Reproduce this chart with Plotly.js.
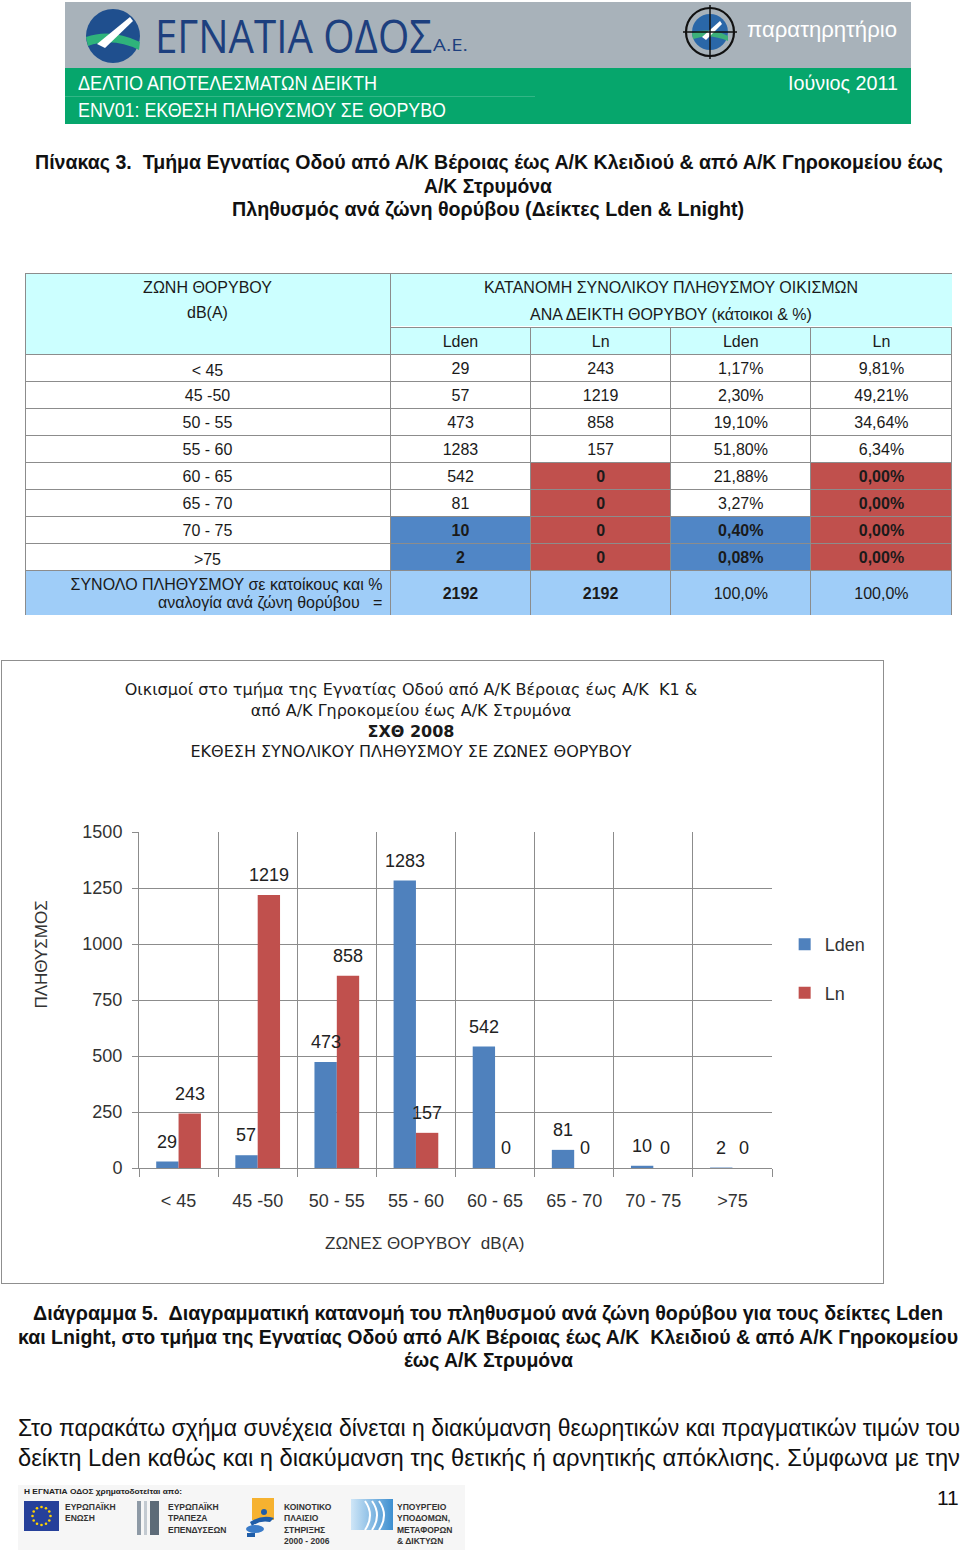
<!DOCTYPE html>
<html><head><meta charset="utf-8">
<script src="https://cdn.plot.ly/plotly-3.0.1.min.js"></script>
<style>
body{margin:0;background:#fff;}
#page{position:relative;width:960px;height:1550px;overflow:hidden;font-family:'Liberation Sans',Arial,sans-serif;color:#111;}
.abs{position:absolute;}
.ln{position:absolute;white-space:pre;display:inline-block;transform-origin:left center;}
</style></head><body><div id="page">
<!-- header banner -->
<div class="abs" style="left:65px;top:2px;width:846px;height:66px;background:#a8b2ba"></div>
<div class="abs" style="left:65px;top:68px;width:846px;height:56px;background:#06a66c"></div>
<div class="abs" style="left:65px;top:96px;width:470px;height:1px;background:rgba(255,255,255,0.18)"></div>
<svg class="abs" style="left:83px;top:6px" width="60" height="60" viewBox="0 0 60 60">
  <circle cx="30" cy="30" r="27" fill="#1f4f8e"/>
  <path d="M3 31 Q 28 22 57 36 L 56 44 Q 30 31 5 40 Z" fill="#2fb37b"/>
  <path d="M14 38 L 47 11 L 50 15 L 22 42 Z" fill="#ffffff"/>
</svg>
<svg class="abs" style="left:680px;top:3px" width="60" height="60" viewBox="0 0 60 60">
  <circle cx="30" cy="29" r="18" fill="#2a67a8"/>
  <path d="M12 30 Q 30 24 48 33 L 48 38 Q 30 30 13 36 Z" fill="#3cb07a"/>
  <path d="M22 34 L 40 18 L 42 21 L 26 37 Z" fill="#ffffff"/>
  <circle cx="30" cy="29" r="24" fill="none" stroke="#111" stroke-width="2.2"/>
  <line x1="30" y1="2" x2="30" y2="56" stroke="#111" stroke-width="1.5"/>
  <line x1="3" y1="29" x2="57" y2="29" stroke="#111" stroke-width="1.5"/>
</svg>
<!-- table -->
<div id="tbl" class="abs" style="left:25px;top:273px;width:927px;height:346px"></div>
<!-- chart -->
<div class="abs" style="left:1px;top:660px;width:881px;height:622px;border:1px solid #8f8f8f"></div>
<div id="chart" class="abs" style="left:2px;top:661px;width:881px;height:622px"></div>
<!-- footer logos -->
<div class="abs" style="left:18px;top:1485px;width:447px;height:65px;background:#f6f6f6"></div>
<svg class="abs" style="left:24px;top:1501px" width="36" height="32" viewBox="0 0 36 32">
  <rect x="0" y="0" width="35" height="30" fill="#26409a"/>
  <g fill="#ffd200" id="stars"></g>
</svg>
<svg class="abs" style="left:135px;top:1499px" width="30" height="38" viewBox="0 0 30 38">
  <rect x="2" y="2" width="4" height="34" fill="#8e9aa6"/>
  <rect x="9" y="2" width="3" height="34" fill="#c3cad1"/>
  <rect x="15" y="2" width="9" height="34" fill="#5d6b78"/>
</svg>
<svg class="abs" style="left:244px;top:1496px" width="34" height="42" viewBox="0 0 34 42">
  <rect x="8" y="2" width="22" height="22" fill="#f6b230"/>
  <circle cx="20" cy="16" r="3" fill="#1f5da8"/>
  <path d="M6 26 Q 18 18 30 22 L 26 26 Q 16 24 8 30 Z" fill="#1f5da8"/>
  <ellipse cx="11" cy="33" rx="9" ry="4" fill="#3a7bc8"/>
  <rect x="3" y="37" width="8" height="4" fill="#1f5da8"/>
</svg>
<svg class="abs" style="left:351px;top:1499px" width="44" height="34" viewBox="0 0 44 34">
  <defs><linearGradient id="mg" x1="0" x2="1"><stop offset="0" stop-color="#cfe6f7"/><stop offset="1" stop-color="#3d8fd0"/></linearGradient></defs>
  <rect x="0" y="0" width="42" height="31" fill="url(#mg)"/>
  <path d="M14 31 Q 24 16 14 2" stroke="#fff" stroke-width="2" fill="none"/>
  <path d="M21 31 Q 31 16 21 2" stroke="#fff" stroke-width="2" fill="none"/>
  <path d="M28 31 Q 38 16 28 2" stroke="#fff" stroke-width="2" fill="none"/>
</svg>
</div>
<script>
// ---------------- data ----------------
const zones = ['< 45', '45 -50', '50 - 55', '55 - 60', '60 - 65', '65 - 70', '70 - 75', '>75'];
const ldenPop = [29, 57, 473, 1283, 542, 81, 10, 2];
const lnPop = [243, 1219, 858, 157, 0, 0, 0, 0];
const ldenPct = ['1,17%', '2,30%', '19,10%', '51,80%', '21,88%', '3,27%', '0,40%', '0,08%'];
const lnPct = ['9,81%', '49,21%', '34,64%', '6,34%', '0,00%', '0,00%', '0,00%', '0,00%'];
const totalPop = [2192, 2192];
const totalPct = ['100,0%', '100,0%'];
const seriesNames = ['Lden', 'Ln'];
const yTicks = [0, 250, 500, 750, 1000, 1250, 1500];
const LDEN_LIMIT = 70, LN_LIMIT = 60;

// ---------------- page text ----------------
const page = document.getElementById('page');
function line(text, o) {
  const s = document.createElement('span');
  s.className = 'ln';
  s.textContent = text;
  s.style.fontSize = o.size + 'px';
  s.style.lineHeight = (o.size * 1.2) + 'px';
  s.style.left = o.x + 'px';
  s.style.top = (o.cy - o.size * 0.62) + 'px';
  s.style.fontWeight = o.bold ? 'bold' : 'normal';
  s.style.color = o.color || '#111';
  if (o.family) s.style.fontFamily = o.family;
  page.appendChild(s);
  if (o.w) {
    const r = s.getBoundingClientRect().width;
    s.style.transform = 'scaleX(' + (o.w / r) + ')';
  }
  return s;
}
// header
line('ΕΓΝΑΤΙΑ ΟΔΟΣ', {x:155, cy:37, size:46, w:277, color:'#1d3f7e', family:"'Open Sans','Liberation Sans',sans-serif"});
line('Α.Ε.', {x:433, cy:46, size:17, w:35, color:'#1d3f7e', family:"'Open Sans','Liberation Sans',sans-serif"});
line('παρατηρητήριο', {x:747, cy:31, size:22, w:150, color:'#ffffff'});
line('ΔΕΛΤΙΟ ΑΠΟΤΕΛΕΣΜΑΤΩΝ ΔΕΙΚΤΗ', {x:78, cy:83, size:21, w:299, color:'#ffffff'});
line('ENV01: ΕΚΘΕΣΗ ΠΛΗΘΥΣΜΟΥ ΣΕ ΘΟΡΥΒΟ', {x:78, cy:110, size:21, w:368, color:'#ffffff'});
line('Ιούνιος 2011', {x:788, cy:83, size:21, w:110, color:'#ffffff'});
// table title
line('Πίνακας 3.  Τμήμα Εγνατίας Οδού από Α/Κ Βέροιας έως Α/Κ Κλειδιού & από Α/Κ Γηροκομείου έως', {x:35, cy:162, size:20, bold:true, w:908});
line('Α/Κ Στρυμόνα', {x:424, cy:186, size:20, bold:true, w:128});
line('Πληθυσμός ανά ζώνη θορύβου (Δείκτες Lden & Lnight)', {x:232, cy:209, size:20, bold:true, w:512});
// caption
line('Διάγραμμα 5.  Διαγραμματική κατανομή του πληθυσμού ανά ζώνη θορύβου για τους δείκτες Lden', {x:33, cy:1313, size:20, bold:true, w:910});
line('και Lnight, στο τμήμα της Εγνατίας Οδού από Α/Κ Βέροιας έως Α/Κ  Κλειδιού & από Α/Κ Γηροκομείου', {x:18, cy:1337, size:20, bold:true, w:940});
line('έως Α/Κ Στρυμόνα', {x:404, cy:1360, size:20, bold:true, w:169});
// body text
line('Στο παρακάτω σχήμα συνέχεια δίνεται η διακύμανση θεωρητικών και πραγματικών τιμών του', {x:18, cy:1429, size:23, w:942});
line('δείκτη Lden καθώς και η διακύμανση της θετικής ή αρνητικής απόκλισης. Σύμφωνα με την', {x:18, cy:1459, size:23, w:942});
// footer
line('Η ΕΓΝΑΤΙΑ ΟΔΟΣ χρηματοδοτείται από:', {x:24, cy:1492, size:8, bold:true, w:158, color:'#222'});
[['ΕΥΡΩΠΑΪΚΗ','ΕΝΩΣΗ'], ['ΕΥΡΩΠΑΪΚΗ','ΤΡΑΠΕΖΑ','ΕΠΕΝΔΥΣΕΩΝ'], ['ΚΟΙΝΟΤΙΚΟ','ΠΛΑΙΣΙΟ','ΣΤΗΡΙΞΗΣ','2000 - 2006'], ['ΥΠΟΥΡΓΕΙΟ','ΥΠΟΔΟΜΩΝ,','ΜΕΤΑΦΟΡΩΝ','& ΔΙΚΤΥΩΝ']]
  .forEach((arr, k) => {
    const xs = [65, 168, 284, 397];
    arr.forEach((t, j) => line(t, {x: xs[k], cy: 1507 + j * 11.5, size: 8.5, bold: true, color: '#333'}));
  });
line('11', {x:937, cy:1498, size:21});
(function(){
  const g = document.getElementById('stars');
  for (let i = 0; i < 12; i++) {
    const a = i * Math.PI / 6;
    const c = document.createElementNS('http://www.w3.org/2000/svg', 'circle');
    c.setAttribute('cx', 17.5 + 9 * Math.cos(a)); c.setAttribute('cy', 15 + 9 * Math.sin(a));
    c.setAttribute('r', 1.3); g.appendChild(c);
  }
})();

// ---------------- table ----------------
const FONT = "'Liberation Sans', Arial, sans-serif";
const FS = 16;
const tFont = {family: FONT, size: FS, color: '#1a1a1a'};
const LINE = '#8c8c8c', HEAD = '#ccffff', TOTAL = '#9fcdf8', RED = '#c0504d', BLUE = '#5086c6', WHITE = '#ffffff', NONE = 'rgba(0,0,0,0)';
const H = 346, TW = 927;
const c1 = 365 / TW;
const dom = (top, h) => [Math.max(0, 1 - (top + h) / H), 1 - top / H];
function lowerBound(z) {
  if (z.trim().startsWith('<')) return -Infinity;
  return parseFloat(z.replace(/[^0-9.\- ]/g, '').trim());
}
const ldenHi = zones.map(z => lowerBound(z) >= LDEN_LIMIT);
const lnHi = zones.map(z => lowerBound(z) >= LN_LIMIT);
const wt = b => b ? 'bold' : 'normal';
const colW = [365, 140, 140, 140, 141];
const rowH = 27, headH1 = 54, totalH = 46;
const bodyTop = headH1, bodyH = rowH * (zones.length + 1), totalTop = bodyTop + bodyH;
const noText = {fill: {color: NONE}, line: {color: NONE, width: 0}};
const tables = [
  // body grid (sub-header row + data rows); zone labels are drawn by per-row text layers below
  {type: 'table', domain: {x: [0, 1], y: dom(bodyTop, bodyH + 1)}, columnwidth: colW,
   header: {values: ['', seriesNames[0], seriesNames[1], seriesNames[0], seriesNames[1]], height: rowH,
            fill: {color: HEAD}, line: {color: LINE, width: 1}, font: tFont, align: 'center'},
   cells: {
     values: [zones.map(() => ''), ldenPop.map(String), lnPop.map(String), ldenPct, lnPct],
     height: rowH,
     fill: {color: [zones.map(() => WHITE), ldenHi.map(b => b ? BLUE : WHITE), lnHi.map(b => b ? RED : WHITE),
                    ldenHi.map(b => b ? BLUE : WHITE), lnHi.map(b => b ? RED : WHITE)]},
     line: {color: LINE, width: 1},
     font: {family: FONT, size: FS, color: '#1a1a1a',
            weight: [zones.map(() => 'normal'), ldenHi.map(wt), lnHi.map(wt), ldenHi.map(wt), lnHi.map(wt)]},
     align: 'center'}},
  // merged header backgrounds
  {type: 'table', domain: {x: [0, c1], y: dom(0, headH1 + rowH)}, columnwidth: [1],
   header: {values: [''], height: headH1 + rowH, fill: {color: HEAD}, line: {color: LINE, width: 1}, font: tFont},
   cells: {values: [[]]}},
  {type: 'table', domain: {x: [c1, 1], y: dom(0, headH1)}, columnwidth: [1],
   header: {values: [''], height: headH1, fill: {color: HEAD}, line: {color: LINE, width: 1}, font: tFont},
   cells: {values: [[]]}},
  // total row background
  {type: 'table', domain: {x: [0, 1], y: dom(totalTop, totalH)}, columnwidth: colW,
   header: {values: ['', '', '', '', ''], height: totalH, fill: {color: TOTAL}, line: {color: LINE, width: 1}, font: tFont},
   cells: {values: [[], [], [], [], []]}},
  // merged header texts
  {type: 'table', domain: {x: [0, c1], y: dom(0, 60)}, columnwidth: [1],
   header: Object.assign({values: [['ΖΩΝΗ ΘΟΡΥΒΟΥ', 'dB(A)']], height: 25, font: tFont, align: 'center'}, noText),
   cells: {values: [[]]}},
  {type: 'table', domain: {x: [c1, 1], y: dom(0, 75)}, columnwidth: [1],
   header: Object.assign({values: [['ΚΑΤΑΝΟΜΗ ΣΥΝΟΛΙΚΟΥ ΠΛΗΘΥΣΜΟΥ ΟΙΚΙΣΜΩΝ', 'ΑΝΑ ΔΕΙΚΤΗ ΘΟΡΥΒΟΥ (κάτοικοι & %)']], height: 25, font: tFont, align: 'center'}, noText),
   cells: {values: [[]]}},
  // total row texts
  {type: 'table', domain: {x: [0, 1], y: dom(totalTop, H - totalTop)}, columnwidth: colW,
   header: Object.assign({values: [['ΣΥΝΟΛΟ ΠΛΗΘΥΣΜΟΥ σε κατοίκους και %', '', 'αναλογία ανά ζώνη θορύβου\u00a0\u00a0\u00a0=', '', ''],
                     ['', String(totalPop[0]), '', '', ''], ['', String(totalPop[1]), '', '', ''],
                     ['', totalPct[0], '', '', ''], ['', totalPct[1], '', '', '']],
            height: 9.2,
            font: {family: FONT, size: FS, color: '#1a1a1a', weight: ['normal', 'bold', 'bold', 'normal', 'normal']},
            align: ['right', 'center', 'center', 'center', 'center']}, noText),
   cells: {values: [[], [], [], [], []]}}
];
// zone labels: one text layer per row
zones.forEach((z, i) => tables.push({
  type: 'table', domain: {x: [0, c1], y: dom(bodyTop + rowH * (i + 1), rowH + 12)}, columnwidth: [1],
  header: Object.assign({values: [z], height: rowH, font: tFont, align: 'center'}, noText),
  cells: {values: [[]]}
}));
Plotly.newPlot('tbl', tables, {width: TW, height: H, margin: {l: 0, r: 0, t: 0, b: 0}, paper_bgcolor: 'rgba(0,0,0,0)'}, {staticPlot: true});

// ---------------- chart ----------------
const W = 881, CH = 622;
const M = {l: 137, r: 107, t: 171, b: 115};
const bargap = 0.435;
const plotW = W - M.l - M.r, plotH = CH - M.t - M.b;
const barW = plotW / zones.length * (1 - bargap) / 2;
const cFont = "'Liberation Sans', Arial, sans-serif";
const values = [ldenPop, lnPop];
const colors = ['#4f81bd', '#c0504d'];
const traces = values.map((v, k) => ({
  type: 'bar', name: seriesNames[k], x: zones, y: v, marker: {color: colors[k]},
  legendgroup: seriesNames[k], hoverinfo: 'skip'
}));
const annotations = [];
values.forEach((v, k) => v.forEach((y, i) => annotations.push({
  x: zones[i], y: y, xref: 'x', yref: 'y', text: String(y), showarrow: false,
  xshift: (k === 0 ? -1 : 1) * barW / 2, yshift: 20, yanchor: 'middle', xanchor: 'center',
  font: {family: cFont, size: 18, color: '#222'}
})));
annotations.push({text: 'ΠΛΗΘΥΣΜΟΣ', xref: 'paper', yref: 'paper', x: (38 - M.l) / plotW, y: (plotH - (294 - M.t)) / plotH,
  xanchor: 'center', yanchor: 'middle', textangle: -90, showarrow: false, font: {family: cFont, size: 17, color: '#333'}});
annotations.push({text: 'ΖΩΝΕΣ ΘΟΡΥΒΟΥ\u00a0\u00a0dB(A)', xref: 'paper', yref: 'paper', x: (424 - M.l) / plotW, y: (plotH - (582 - M.t)) / plotH,
  xanchor: 'center', yanchor: 'middle', showarrow: false, font: {family: cFont, size: 17, color: '#333'}});
const layout = {
  width: W, height: CH, margin: M, paper_bgcolor: '#fff', plot_bgcolor: '#fff',
  title: {text: 'Οικισμοί στο τμήμα της Εγνατίας Οδού από Α/Κ Βέροιας έως Α/Κ\u00a0\u00a0Κ1 &<br>από Α/Κ Γηροκομείου έως Α/Κ Στρυμόνα<br><b>ΣΧΘ 2008</b><br>ΕΚΘΕΣΗ ΣΥΝΟΛΙΚΟΥ ΠΛΗΘΥΣΜΟΥ ΣΕ ΖΩΝΕΣ ΘΟΡΥΒΟΥ',
         x: 409 / W, xanchor: 'center', xref: 'container', y: 1 - 34 / CH, yanchor: 'top', yref: 'container',
         font: {family: "'DejaVu Sans', sans-serif", size: 16, color: '#1a1a1a'}},
  barmode: 'group', bargap: bargap, bargroupgap: 0,
  xaxis: {type: 'category', tickson: 'boundaries', showgrid: true, gridcolor: '#8c8c8c', gridwidth: 1,
          showline: true, linecolor: '#8c8c8c', ticks: 'outside', ticklen: 8, tickcolor: '#8c8c8c',
          ticklabelstandoff: 16, tickfont: {family: cFont, size: 18, color: '#333'}, fixedrange: true},
  yaxis: {range: [0, 1500], tickvals: yTicks, showgrid: true, gridcolor: '#8c8c8c', gridwidth: 1,
          showline: true, linecolor: '#8c8c8c', ticks: 'outside', ticklen: 6, tickcolor: '#8c8c8c',
          ticklabelstandoff: 6, zeroline: false, tickfont: {family: cFont, size: 18, color: '#333'}},
  legend: {x: 1.02, xanchor: 'left', y: 0.72, yanchor: 'top', font: {family: cFont, size: 18, color: '#333'},
           traceorder: 'grouped', tracegroupgap: 22, bgcolor: 'rgba(0,0,0,0)'},
  annotations: annotations, showlegend: true
};
Plotly.newPlot('chart', traces, layout, {staticPlot: true});
</script>
</body></html>
